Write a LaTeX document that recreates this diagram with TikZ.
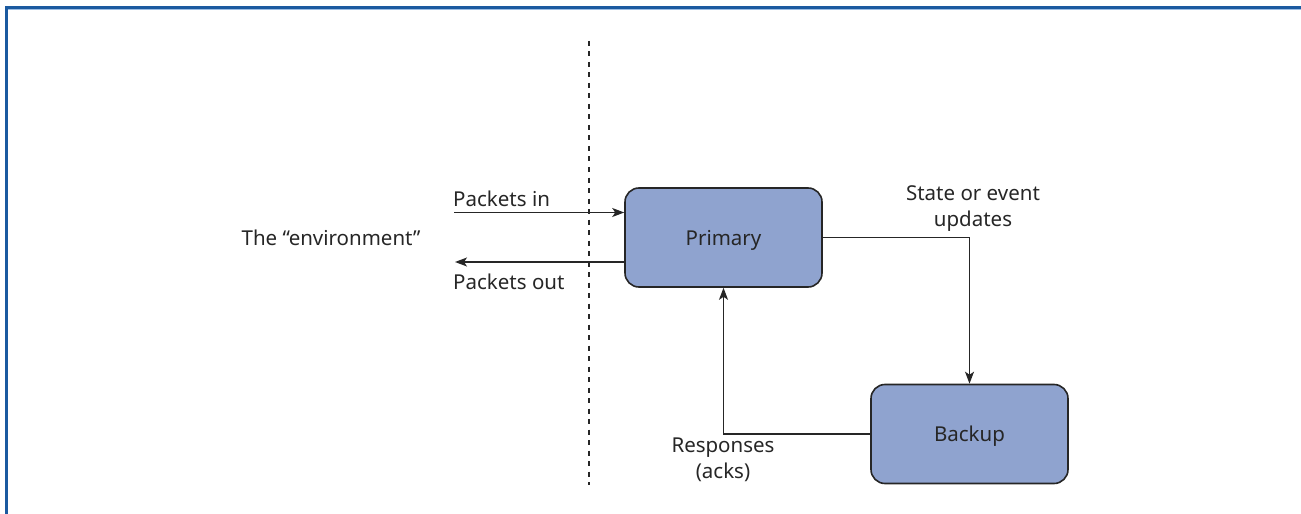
\documentclass[tikz,border=0pt]{standalone}
\usepackage{fontspec}
\setmainfont{Noto Sans}
\usetikzlibrary{arrows.meta}
\definecolor{framedark}{HTML}{1B5AA0}
\definecolor{framelight}{HTML}{9CBDE3}
\definecolor{boxfill}{HTML}{8FA3CF}
\definecolor{ink}{HTML}{262626}
\tikzset{
  unitbox/.style={draw=ink, line width=1.6bp, fill=boxfill, rounded corners=14bp,
    minimum width=197bp, minimum height=99bp, inner sep=0pt, text depth=0pt,
    font=\fontsize{20.5bp}{24bp}\selectfont, text=ink},
  lbl/.style={inner sep=0pt, font=\fontsize{20.5bp}{26bp}\selectfont, text=ink, align=center},
  flow/.style={draw=ink, line width=1.3bp, -{Stealth[length=12bp,width=9bp,inset=3bp]}},
  divider/.style={draw=ink, line width=1.1bp, dash pattern=on 5bp off 5.5bp},
}
\begin{document}
\begin{tikzpicture}[x=1bp,y=-1bp]
\useasboundingbox (0,0) rectangle (1301,514);
% frame along the top and left edges
\fill[framedark] (5,6) rectangle (1301,9);
\fill[framelight] (8,9) rectangle (1301,10);
\fill[framedark] (5,6) rectangle (8,514);

% boundary between the environment and the system
\coordinate (dtop) at (589,41);
\coordinate (dbot) at (589,485);
\draw[divider] (dtop) -- (dbot);

% the two replicas
\node[unitbox] (primary) at (723.5,237.5) {Primary};
\node[unitbox] (backup) at (969.5,434) {Backup};

% labels
\node[lbl] (env) at (331,238) {The \char"201C environment\char"201D};
\node[lbl, anchor=west] (pin) at (453,199) {Packets in};
\node[lbl, anchor=west] (pout) at (453,282) {Packets out};
\node[lbl] (upd) at (973,209) {State or event\\updates};
\node[lbl] (resp) at (723,460) {Responses\\(acks)};

% packet flow across the boundary
\coordinate (inS) at (454,212.5);
\coordinate (outE) at (455,262);
\draw[flow] (inS) -- (inS -| primary.west);
\draw[flow] (outE -| primary.west) -- (outE);

% state updates to the backup, acknowledgements back to the primary
\draw[flow] (primary.east) -| (backup.north);
\draw[flow] (backup.west) -| (primary.south);
\end{tikzpicture}
\end{document}
